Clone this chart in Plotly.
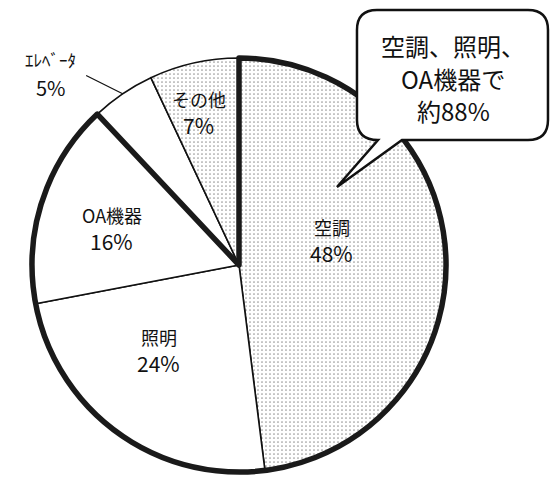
import math
import plotly.graph_objects as go

# ---- data ----
categories = ["空調", "照明", "OA機器", "ｴﾚﾍﾞｰﾀ", "その他"]
values = [48, 24, 16, 5, 7]
pct_labels = ["48%", "24%", "16%", "5%", "7%"]
group_size = 3  # 空調、照明、OA機器
group_total = sum(values[:group_size])
callout_lines = ["空調、照明、", "OA機器で", "約88%"]

# ---- layout constants ----
W, H = 557, 478
CX, CY, R = 239, 265, 207
FONT = "Noto Sans CJK JP"

dom_x = [(CX - R) / W, (CX + R) / W]
dom_y = [1 - (CY + R) / H, 1 - (CY - R) / H]

fill_colors = ["#f3f3f3", "white", "white", "white", "#efefef"]
patterns = [".", "", "", "", "."]

fig = go.Figure()
fig.add_trace(go.Pie(
    labels=categories, values=values, sort=False, direction="clockwise",
    rotation=0, domain=dict(x=dom_x, y=dom_y), textinfo="none",
    marker=dict(colors=fill_colors,
                line=dict(color="#111", width=1.6),
                pattern=dict(shape=patterns, fgcolor="#999", size=4, solidity=0.15)),
    showlegend=False, hoverinfo="label+percent",
))
# thick outline round the 88% group
fig.add_trace(go.Pie(
    labels=["group", "rest"], values=[group_total, 100 - group_total], sort=False,
    direction="clockwise", rotation=0, domain=dict(x=dom_x, y=dom_y),
    textinfo="none", showlegend=False, hoverinfo="skip",
    marker=dict(colors=["rgba(0,0,0,0)", "rgba(0,0,0,0)"],
                line=dict(color=["#1a1a1a", "rgba(0,0,0,0)"], width=[5.5, 0])),
))

# label placement (style): radius fraction and angle offset from slice mid-angle
label_r = [0.465, 0.565, 0.64, None, 0.765]
label_da = [-11.4, 7.3, -1.8, 0, -2.1]
LINE_GAP = 13

def to_paper(px, py):
    return px / W, 1 - py / H

total = sum(values)
cum = 0
annotations = []
for cat, v, p, lr, da in zip(categories, values, pct_labels, label_r, label_da):
    mid_deg = (cum + v / 2) / total * 360
    cum += v
    if lr is not None:
        a = math.radians(mid_deg + da)
        px = CX + lr * R * math.sin(a)
        py = CY - lr * R * math.cos(a)
        for txt, off, sz in ((cat, -LINE_GAP, 18), (p, LINE_GAP, 21)):
            x, y = to_paper(px, py + off)
            annotations.append(dict(x=x, y=y, xref="paper", yref="paper",
                                    xanchor="center", yanchor="middle",
                                    text=txt, showarrow=False,
                                    font=dict(family=FONT, size=sz, color="#111")))
    else:
        a = math.radians(mid_deg)
        px = CX + R * math.sin(a)
        py = CY - R * math.cos(a)
        x, y = to_paper(px, py)
        annotations.append(dict(x=x, y=y, xref="paper", yref="paper",
                                text="", showarrow=True, arrowhead=0,
                                arrowwidth=1.2, arrowcolor="#111", ax=-38, ay=-19))
        tx, ty = px - 72, py - 20
        for txt, off, sz in ((cat, -14, 17), (p, 14, 20)):
            x, y = to_paper(tx, ty + off)
            annotations.append(dict(x=x, y=y, xref="paper", yref="paper",
                                    xanchor="center", yanchor="middle",
                                    text=txt, showarrow=False,
                                    font=dict(family=FONT, size=sz, color="#111")))

for i, line in enumerate(callout_lines):
    x, y = to_paper(453, 45 + 33 * i)
    annotations.append(dict(x=x, y=y, xref="paper", yref="paper",
                            xanchor="center", yanchor="middle",
                            text=line, showarrow=False,
                            font=dict(family=FONT, size=24, color="#111")))

def P(x, y):
    return f"{x / W:.4f},{1 - y / H:.4f}"

L, Rr, T, B, rr = 357, 548, 10, 140, 20
path = (f"M {P(L + rr, T)} L {P(Rr - rr, T)} Q {P(Rr, T)} {P(Rr, T + rr)} "
        f"L {P(Rr, B - rr)} Q {P(Rr, B)} {P(Rr - rr, B)} L {P(402, B)} "
        f"L {P(337, 187)} L {P(378, B)} Q {P(L, B)} {P(L, B - rr)} "
        f"L {P(L, T + rr)} Q {P(L, T)} {P(L + rr, T)} Z")

fig.update_layout(
    width=W, height=H, margin=dict(l=0, r=0, t=0, b=0),
    paper_bgcolor="white", plot_bgcolor="white",
    annotations=annotations,
    shapes=[dict(type="path", path=path, xref="paper", yref="paper",
                 fillcolor="white", line=dict(color="#111", width=2.5))],
)
fig.write_html("out.html", config={"displayModeBar": False},
               post_script="document.body.style.margin='0';")
